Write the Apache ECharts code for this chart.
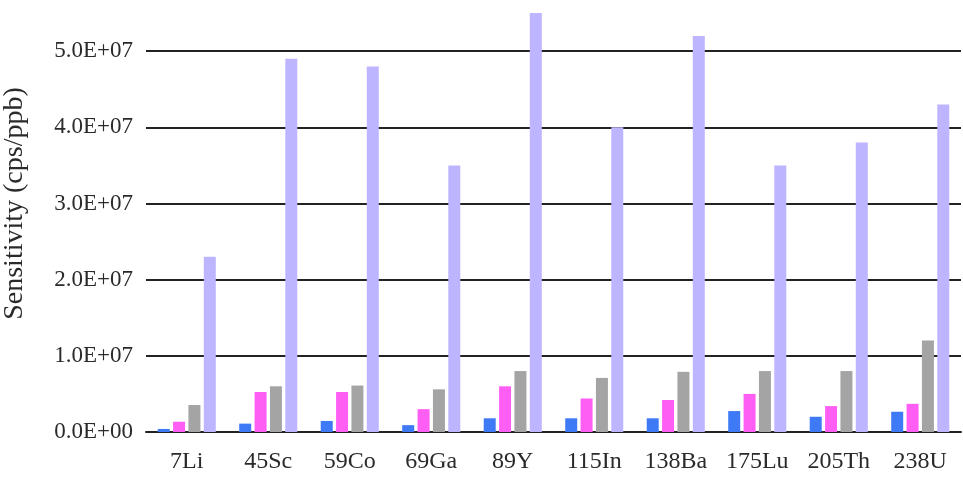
<!DOCTYPE html>
<html>
<head>
<meta charset="utf-8">
<script src="https://cdn.jsdelivr.net/npm/echarts@6/dist/echarts.min.js"></script>
<style>
    html, body { margin: 0; padding: 0; background: #fff; }
    #chart { width: 963px; height: 480px; }
</style>
</head>
<body>
<div id="chart"></div>
<script>
// 元素
var elements = ['7Li', '45Sc', '59Co', '69Ga', '89Y', '115In', '138Ba', '175Lu', '205Th', '238U'];
// 四组灵敏度数据 (cps/ppb)
var seriesA = [0.04e7, 0.11e7, 0.145e7, 0.09e7, 0.18e7, 0.18e7, 0.18e7, 0.275e7, 0.2e7, 0.266e7];
var seriesB = [0.135e7, 0.525e7, 0.525e7, 0.3e7, 0.6e7, 0.44e7, 0.42e7, 0.5e7, 0.34e7, 0.37e7];
var seriesC = [0.354e7, 0.6e7, 0.61e7, 0.56e7, 0.8e7, 0.71e7, 0.79e7, 0.8e7, 0.8e7, 1.2e7];
var seriesD = [2.3e7, 4.9e7, 4.8e7, 3.5e7, 5.5e7, 4.0e7, 5.2e7, 3.5e7, 3.8e7, 4.3e7];
var colors = ['#3F7AF6', '#FF5EF5', '#A4A4A4', '#BDB5FF'];

var font = '"Liberation Serif", "Times New Roman", serif';

var echart = echarts.init(document.getElementById('chart'));

function barSeries(data, idx) {
    return {
        type: 'bar',
        data: data,
        barWidth: 12,
        barGap: '28%',
        itemStyle: { color: colors[idx] }
    };
}

echart.setOption({
    animation: false,
    grid: { left: 146, right: 2, top: -25, bottom: 48, containLabel: false, outerBoundsMode: 'none' },
    xAxis: {
        type: 'category',
        data: elements,
        axisLine: { show: true, lineStyle: { color: '#222', width: 2 } },
        axisTick: { show: false },
        axisLabel: { color: '#2a2a2a', fontFamily: font, fontSize: 24, margin: 18 }
    },
    yAxis: {
        type: 'value',
        min: 0,
        max: 6e7,
        interval: 1e7,
        name: 'Sensitivity (cps/ppb)',
        nameLocation: 'middle',
        nameGap: 117,
        nameTextStyle: { color: '#2a2a2a', fontFamily: font, fontSize: 28 },
        axisLine: { show: false },
        axisTick: { show: false },
        axisLabel: {
            color: '#2a2a2a', fontFamily: font, fontSize: 23, margin: 13,
            formatter: function (v) {
                var s = (v / 1e7).toFixed(1);
                return v == 0 ? '0.0E+00' : s + 'E+07';
            }
        },
        splitLine: { show: true, lineStyle: { color: '#222', width: 2 } }
    },
    series: [
        barSeries(seriesA, 0),
        barSeries(seriesB, 1),
        barSeries(seriesC, 2),
        barSeries(seriesD, 3)
    ]
});
</script>
</body>
</html>
